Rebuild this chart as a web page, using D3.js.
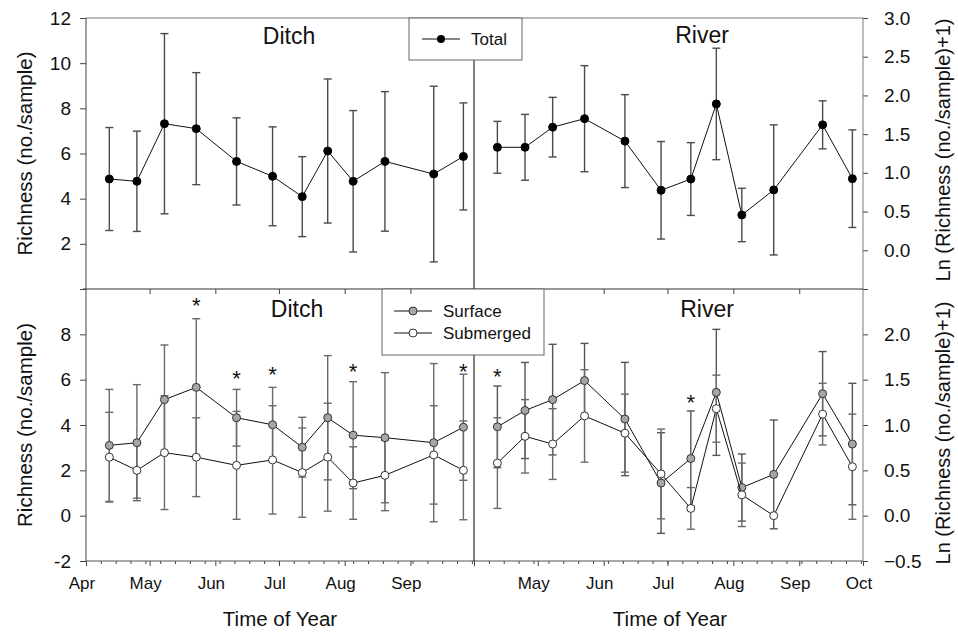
<!DOCTYPE html>
<html><head><meta charset="utf-8">
<script src="https://cdn.jsdelivr.net/npm/d3@7"></script>
<style>
body{margin:0;background:#fff;}
svg{display:block;font-family:"Liberation Sans",Arial,Helvetica,sans-serif;}
</style>
</head><body>
<svg id="chart" width="958" height="634"></svg>
<script>
// ---------------- DATA ----------------
const sampleDates = ["04-12","04-25","05-08","05-23","06-11","06-28","07-12","07-24","08-05","08-20","09-12","09-26"];
const monthLabels = ["Apr","May","Jun","Jul","Aug","Sep","Oct"];

const ditchTotal     = [4.87,4.77,7.32,7.10,5.65,4.99,4.09,6.11,4.77,5.65,5.09,5.87];
const ditchTotalSD   = [2.28,2.22,3.99,2.48,1.93,2.19,1.77,3.19,3.13,3.09,3.89,2.37];
const riverTotal     = [1.33,1.33,1.59,1.70,1.41,0.775,0.92,1.89,0.456,0.78,1.62,0.925];
const riverTotalSD   = [0.335,0.425,0.385,0.685,0.60,0.63,0.47,0.72,0.345,0.84,0.31,0.63];

const ditchSurface     = [3.10,3.22,5.12,5.66,4.32,4.01,3.02,4.32,3.55,3.44,3.22,3.90];
const ditchSurfaceSD   = [2.47,2.56,2.41,3.03,1.25,1.65,1.32,2.74,2.36,2.87,3.49,2.34];
const ditchSubmerged   = [2.58,2.00,2.78,2.58,2.22,2.46,1.90,2.58,1.44,1.78,2.68,2.00];
const ditchSubmergedSD = [1.98,1.23,2.51,1.74,2.38,2.39,1.97,2.38,1.60,1.56,2.17,2.18];

const riverSurface     = [0.98,1.16,1.28,1.49,1.066,0.36,0.63,1.36,0.31,0.455,1.345,0.79];
const riverSurfaceSD   = [0.45,0.53,0.61,0.41,0.625,0.555,0.525,0.695,0.37,0.60,0.465,0.67];
const riverSubmerged   = [0.58,0.875,0.79,1.10,0.91,0.46,0.08,1.18,0.23,0.0,1.12,0.54];
const riverSubmergedSD = [0.50,0.405,0.39,0.51,0.43,0.495,0.23,0.37,0.35,0.0,0.34,0.58];

// significance markers: sample index and value of the asterisk
const ditchSigIndex = [3,4,5,8,11];
const ditchSigValue = [9.51,6.31,6.46,6.62,6.62];
const riverSigIndex = [0,6];
const riverSigValue = [1.60,1.31];

const ditchTopTicks = [0,2,4,6,8,10,12];
const riverTopTicks = [-0.5,0,0.5,1.0,1.5,2.0,2.5,3.0];
const ditchBotTicks = [-2,0,2,4,6,8,10];
const riverBotTicks = [-0.5,0,0.5,1.0,1.5,2.0,2.5];

// ---------------- SETUP ----------------
const svg = d3.select("#chart");
const parse = d3.timeParse("%Y-%m-%d");
const dates = sampleDates.map(d => parse("2001-" + d));
const xStart = parse("2001-04-01"), xEnd = parse("2001-10-01");

const L = 86, M = 474, R = 863, T = 18, MID = 289, B = 561;
const xDitch = d3.scaleTime().domain([xStart, xEnd]).range([L, M]);
const xRiver = d3.scaleTime().domain([xStart, xEnd]).range([M, R]);
const yDitchTop = d3.scaleLinear().domain([0, 12]).range([MID, T]);
const yRiverTop = d3.scaleLinear().domain([-0.5, 3.0]).range([MID, T]);
const yDitchBot = d3.scaleLinear().domain([-2, 10]).range([B, MID]);
const yRiverBot = d3.scaleLinear().domain([-0.5, 2.5]).range([B, MID]);

const frameGray = "#7a7a7a";
const fmt1 = d3.format(".1f");

// ---------------- AXES ----------------
function styleAxis(g, size) {
  g.select(".domain").remove();
  g.selectAll(".tick line").attr("stroke", "#444").attr("stroke-width", 1);
  g.selectAll(".tick text").attr("fill", "#111").style("font-size", size + "px")
   .style("font-family", '"Liberation Sans",Arial,sans-serif');
}
svg.append("g").attr("transform", `translate(${L},0)`)
  .call(d3.axisLeft(yDitchTop).tickValues(ditchTopTicks).tickSize(6).tickPadding(9)
        .tickFormat(d => d === 0 ? "" : d))
  .call(g => styleAxis(g, 19));
svg.append("g").attr("transform", `translate(${L},0)`)
  .call(d3.axisLeft(yDitchBot).tickValues(ditchBotTicks).tickSize(6).tickPadding(9)
        .tickFormat(d => d === 10 ? "" : d))
  .call(g => styleAxis(g, 19));
svg.append("g").attr("transform", `translate(${R},0)`)
  .call(d3.axisRight(yRiverTop).tickValues(riverTopTicks).tickSize(5).tickPadding(16)
        .tickFormat(d => d === -0.5 ? "" : fmt1(d)))
  .call(g => styleAxis(g, 19));
svg.append("g").attr("transform", `translate(${R},0)`)
  .call(d3.axisRight(yRiverBot).tickValues(riverBotTicks).tickSize(5).tickPadding(16)
        .tickFormat(d => d === 2.5 ? "" : fmt1(d)))
  .call(g => styleAxis(g, 19));

// x axes (bottom panel)
const months = d3.timeMonth.range(xStart, d3.timeDay.offset(xEnd, 1));
const weeks = d3.timeWeek.range(xStart, xEnd);
function xAxes(x, hideLabel) {
  svg.append("g").attr("transform", `translate(0,${B})`)
    .call(d3.axisBottom(x).tickValues(weeks).tickSize(3).tickFormat(""))
    .call(g => styleAxis(g, 10));
  svg.append("g").attr("transform", `translate(0,${B})`)
    .call(d3.axisBottom(x).tickValues(months).tickSize(5).tickPadding(11)
          .tickFormat((d, i) => hideLabel(i) ? "" : monthLabels[i]))
    .call(g => styleAxis(g, 17))
    .call(g => g.selectAll(".tick text").attr("dx", -4.5));
  svg.append("g").attr("transform", `translate(0,${MID})`)
    .call(d3.axisTop(x).tickValues(months.slice(1, -1)).tickSize(-5).tickFormat(""))
    .call(g => styleAxis(g, 10));
}
xAxes(xDitch, i => i === 6);
xAxes(xRiver, i => i === 0);

// ---------------- FRAME ----------------
const frame = svg.append("g").attr("fill", "none");
frame.append("line").attr("x1", L).attr("x2", R).attr("y1", T).attr("y2", T).attr("stroke", frameGray);
frame.append("line").attr("x1", R).attr("x2", R).attr("y1", T).attr("y2", B).attr("stroke", frameGray);
frame.append("line").attr("x1", L).attr("x2", L).attr("y1", T).attr("y2", B).attr("stroke", "#444");
frame.append("line").attr("x1", L - 3).attr("x2", R).attr("y1", MID).attr("y2", MID).attr("stroke", "#333");
frame.append("line").attr("x1", L).attr("x2", R).attr("y1", B).attr("y2", B).attr("stroke", "#555");
frame.append("line").attr("x1", M).attr("x2", M).attr("y1", 60).attr("y2", MID).attr("stroke", "#000");
frame.append("line").attr("x1", M).attr("x2", M).attr("y1", 355).attr("y2", B).attr("stroke", "#000");

// ---------------- SERIES ----------------
function drawSeries(x, y, vals, sds, o) {
  const g = svg.append("g");
  const eb = g.append("g").attr("stroke", o.errColor).attr("stroke-width", 1.4).attr("fill", "none");
  vals.forEach((v, i) => {
    const cx = x(dates[i]);
    const top = y(v + sds[i]), bot = y(v - sds[i]);
    if (sds[i] <= 0) return;
    eb.append("line").attr("x1", cx).attr("x2", cx).attr("y1", top).attr("y2", bot);
    eb.append("line").attr("x1", cx - 4).attr("x2", cx + 4).attr("y1", top).attr("y2", top);
    eb.append("line").attr("x1", cx - 4).attr("x2", cx + 4).attr("y1", bot).attr("y2", bot);
  });
  return g;
}
function drawLineMarkers(x, y, vals, o) {
  const g = svg.append("g");
  g.append("path").datum(vals)
    .attr("d", d3.line().x((d, i) => x(dates[i])).y(d => y(d)))
    .attr("fill", "none").attr("stroke", "#111").attr("stroke-width", 1);
  g.selectAll("circle").data(vals).join("circle")
    .attr("cx", (d, i) => x(dates[i])).attr("cy", d => y(d)).attr("r", o.r)
    .attr("fill", o.fill).attr("stroke", o.stroke).attr("stroke-width", 1);
}

// top panel totals
drawSeries(xDitch, yDitchTop, ditchTotal, ditchTotalSD, {errColor: "#4a4a4a"});
drawLineMarkers(xDitch, yDitchTop, ditchTotal, {r: 4, fill: "#000", stroke: "#000"});
drawSeries(xRiver, yRiverTop, riverTotal, riverTotalSD, {errColor: "#4a4a4a"});
drawLineMarkers(xRiver, yRiverTop, riverTotal, {r: 4, fill: "#000", stroke: "#000"});

// bottom panel surface / submerged
const surfFill = "#a6a6a6";
drawSeries(xDitch, yDitchBot, ditchSurface, ditchSurfaceSD, {errColor: "#6a6a6a"});
drawSeries(xDitch, yDitchBot, ditchSubmerged, ditchSubmergedSD, {errColor: "#6a6a6a"});
drawSeries(xRiver, yRiverBot, riverSurface, riverSurfaceSD, {errColor: "#555"});
drawSeries(xRiver, yRiverBot, riverSubmerged, riverSubmergedSD, {errColor: "#6a6a6a"});
drawLineMarkers(xDitch, yDitchBot, ditchSurface, {r: 4, fill: surfFill, stroke: "#333"});
drawLineMarkers(xDitch, yDitchBot, ditchSubmerged, {r: 4, fill: "#fff", stroke: "#333"});
drawLineMarkers(xRiver, yRiverBot, riverSurface, {r: 4, fill: surfFill, stroke: "#333"});
drawLineMarkers(xRiver, yRiverBot, riverSubmerged, {r: 4, fill: "#fff", stroke: "#333"});

// asterisks
const star = svg.append("g").attr("fill", "#111").style("font-size", "22px").attr("text-anchor", "middle");
ditchSigIndex.forEach((idx, k) => {
  star.append("text").attr("x", xDitch(dates[idx])).attr("y", yDitchBot(ditchSigValue[k]) + 13).text("*");
});
riverSigIndex.forEach((idx, k) => {
  star.append("text").attr("x", xRiver(dates[idx])).attr("y", yRiverBot(riverSigValue[k]) + 13).text("*");
});

// ---------------- TEXT ----------------
const txt = svg.append("g").attr("fill", "#111");
txt.append("text").attr("x", 289).attr("y", 44).attr("text-anchor", "middle").style("font-size", "23px").text("Ditch");
txt.append("text").attr("x", 702).attr("y", 43).attr("text-anchor", "middle").style("font-size", "23px").text("River");
txt.append("text").attr("x", 297).attr("y", 317).attr("text-anchor", "middle").style("font-size", "23px").text("Ditch");
txt.append("text").attr("x", 707).attr("y", 317).attr("text-anchor", "middle").style("font-size", "23px").text("River");

txt.append("text").attr("transform", `translate(24,${(T + MID) / 2}) rotate(-90)`)
  .attr("text-anchor", "middle").attr("dominant-baseline", "central").style("font-size", "20.5px").text("Richness (no./sample)");
txt.append("text").attr("transform", `translate(24,${(MID + B) / 2}) rotate(-90)`)
  .attr("text-anchor", "middle").attr("dominant-baseline", "central").style("font-size", "20.5px").text("Richness (no./sample)");
txt.append("text").attr("transform", `translate(943,150) rotate(-90)`)
  .attr("text-anchor", "middle").attr("dominant-baseline", "central").style("font-size", "20px").text("Ln (Richness (no./sample)+1)");
txt.append("text").attr("transform", `translate(943,433) rotate(-90)`)
  .attr("text-anchor", "middle").attr("dominant-baseline", "central").style("font-size", "20px").text("Ln (Richness (no./sample)+1)");

txt.append("text").attr("x", 280).attr("y", 626).attr("text-anchor", "middle").style("font-size", "20.5px").text("Time of Year");
txt.append("text").attr("x", 670).attr("y", 626).attr("text-anchor", "middle").style("font-size", "20.5px").text("Time of Year");

// ---------------- LEGENDS ----------------
const lg1 = svg.append("g");
lg1.append("rect").attr("x", 409).attr("y", T).attr("width", 113).attr("height", 42)
  .attr("fill", "#fff").attr("stroke", "#666");
lg1.append("line").attr("x1", 422).attr("x2", 460).attr("y1", 39).attr("y2", 39).attr("stroke", "#111");
lg1.append("circle").attr("cx", 441).attr("cy", 39).attr("r", 4).attr("fill", "#000");
lg1.append("text").attr("x", 471).attr("y", 45).style("font-size", "17px").attr("fill", "#111").text("Total");

const lg2 = svg.append("g");
lg2.append("rect").attr("x", 382).attr("y", MID).attr("width", 162).attr("height", 66)
  .attr("fill", "#fff").attr("stroke", "#666");
const legendItems = [{name: "Surface", fill: surfFill, y: 311}, {name: "Submerged", fill: "#fff", y: 333}];
legendItems.forEach(it => {
  lg2.append("line").attr("x1", 394).attr("x2", 432).attr("y1", it.y).attr("y2", it.y).attr("stroke", "#111");
  lg2.append("circle").attr("cx", 413).attr("cy", it.y).attr("r", 4).attr("fill", it.fill).attr("stroke", "#333");
  lg2.append("text").attr("x", 443).attr("y", it.y + 6).style("font-size", "17px").attr("fill", "#111").text(it.name);
});
// month tick on top of bottom panel visible through legend
svg.append("g").attr("transform", `translate(0,${MID})`)
  .call(d3.axisTop(xDitch).tickValues([months[5]]).tickSize(-5).tickFormat(""))
  .call(g => styleAxis(g, 10));
</script>
</body></html>
